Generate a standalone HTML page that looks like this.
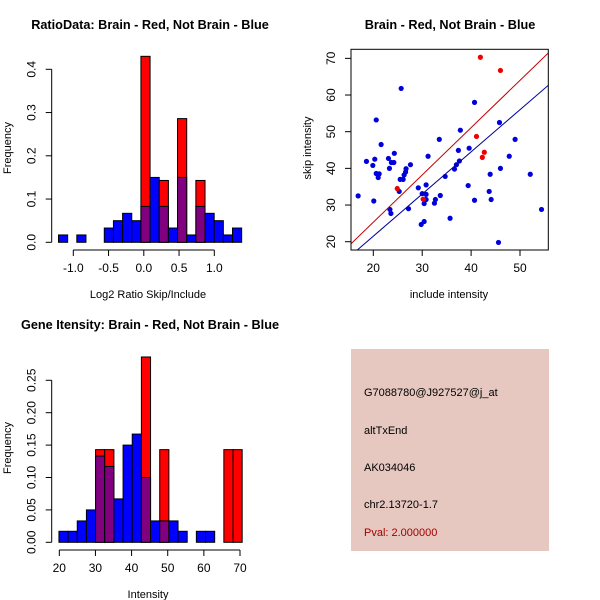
<!DOCTYPE html>
<html><head><meta charset="utf-8"><style>
html,body{margin:0;padding:0;background:#fff;width:600px;height:600px;overflow:hidden}
svg text{font-family:"Liberation Sans",sans-serif;}
</style></head><body>
<svg id="s" width="600" height="600" viewBox="0 0 600 600" xmlns="http://www.w3.org/2000/svg">
<rect x="0" y="0" width="600" height="600" fill="#fff"/>
<rect x="351" y="349" width="198" height="202" fill="#e6c8c0"/>
<g font-size="11" fill="#000">
<text x="364" y="396">G7088780@J927527@j_at</text>
<text x="364" y="434">altTxEnd</text>
<text x="364" y="471">AK034046</text>
<text x="364" y="508">chr2.13720-1.7</text>
<text x="364" y="536" fill="#a00000">Pval: 2.000000</text>
</g>
</svg>
<script>
// ---- Ratio histogram data ----
const ratioBinStart = -1.21;
const ratioBinWidth = 0.1299;
const ratioBlue = [0.017,0,0.017,0,0,0.033,0.05,0.067,0.05,0.083,0.15,0.083,0.033,0.15,0.017,0.083,0.067,0.05,0.017,0.033];
const ratioRed  = [0,0,0,0,0,0,0,0,0,0.43,0,0.143,0,0.286,0,0.143,0,0,0,0];
const ratioXTicks = [-1.0,-0.5,0.0,0.5,1.0];
const ratioXTickLabels = ["-1.0","-0.5","0.0","0.5","1.0"];
const ratioYTicks = [0,0.1,0.2,0.3,0.4];
const ratioYTickLabels = ["0.0","0.1","0.2","0.3","0.4"];
// ---- Intensity histogram data ----
const intBinStart = 19.9;
const intBinWidth = 2.535;
const intBlue = [0.017,0.017,0.033,0.05,0.133,0.117,0.067,0.15,0.167,0.1,0.033,0.033,0.033,0.017,0,0.017,0.017,0,0,0];
const intRed  = [0,0,0,0,0.143,0.143,0,0,0,0.286,0,0.143,0,0,0,0,0,0,0.143,0.143];
const intXTicks = [20,30,40,50,60,70];
const intYTicks = [0,0.05,0.1,0.15,0.2,0.25];
const intYTickLabels = ["0.00","0.05","0.10","0.15","0.20","0.25"];
// ---- Scatter data ----
const blueX = [16.9,18.6,19.9,20.1,20.3,20.6,20.6,21.0,21.2,21.6,23.1,23.3,23.4,23.6,23.7,24.2,24.3,25.3,25.5,25.7,26.1,26.3,26.6,26.7,27.2,27.6,29.2,29.8,30.0,30.4,30.4,30.8,30.8,30.8,31.2,32.5,32.7,33.5,33.7,34.7,35.7,36.6,37.0,37.4,37.6,37.8,39.4,39.6,40.7,40.7,43.7,43.9,44.1,45.6,45.8,46.0,47.8,49.0,52.1,54.4];
const blueY = [32.5,41.9,40.8,31.1,42.5,53.2,38.6,37.5,38.5,46.5,42.7,40.0,28.8,27.7,41.6,41.6,44.1,33.7,37.0,61.8,37.0,38.2,39.0,39.9,29.0,41.0,34.7,24.7,33.1,30.4,25.5,35.5,32.9,31.5,43.3,30.5,31.5,47.9,32.6,37.8,26.4,39.8,41.0,44.9,42.0,50.4,35.3,45.5,58.0,31.3,33.7,38.4,31.5,19.8,52.5,40.0,43.3,47.9,38.4,28.8];
const redX = [24.9,30.2,41.1,41.9,42.3,42.7,46.0];
const redY = [34.5,31.6,48.7,70.3,43.0,44.4,66.7];
const redLine = [1.29,-0.5];   // slope, intercept
const blueLine = [1.15,-1.5];
const scatXTicks = [20,30,40,50];
const scatYTicks = [20,30,40,50,60,70];

const NS="http://www.w3.org/2000/svg";
const svg=document.getElementById('s');
function mk(tag,attrs,parent){const e=document.createElementNS(NS,tag);for(const k in attrs)e.setAttribute(k,attrs[k]);(parent||svg).appendChild(e);return e;}
function txt(x,y,s,attrs){const e=mk('text',Object.assign({x:x,y:y},attrs||{}));e.textContent=s;return e;}

function histogram(cfg){
  const sx=v=>cfg.x0+(v-cfg.xv0)*cfg.xs;
  const sy=v=>cfg.y0-v*cfg.ys;
  const g=mk('g',{});
  
  
  for(let i=0;i<cfg.blue.length;i++){
    const a=cfg.binStart+i*cfg.binW, b=a+cfg.binW;
    const r=cfg.red[i], bl=cfg.blue[i];
    if(r>0){
      const e=mk('rect',{x:sx(a),y:sy(r),width:sx(b)-sx(a),height:sy(0)-sy(r),fill:'#ff0000',stroke:'#000','stroke-width':1},g);
      
      
    }
    if(bl>0){
      const col=r>0?'#800080':'#0000ff';
      const e=mk('rect',{x:sx(a),y:sy(bl),width:sx(b)-sx(a),height:sy(0)-sy(bl),fill:col,stroke:'#000','stroke-width':1},g);
      
      
    }
  }
  const yaxis=mk('g',{stroke:'#000','stroke-width':1});
  
  
  const yt=cfg.yTicks;
  mk('line',{x1:cfg.yAxisX,x2:cfg.yAxisX,y1:sy(yt[0]),y2:sy(yt[yt.length-1])},yaxis);
  yt.forEach((v,i)=>{
    mk('line',{x1:cfg.yAxisX-6,x2:cfg.yAxisX,y1:sy(v),y2:sy(v)},yaxis);
    const lx=cfg.yAxisX-16;
    const t=txt(lx,sy(v),cfg.yLabels[i],{'font-size':12,'text-anchor':'middle',transform:`rotate(-90 ${lx} ${sy(v)})`});
    
    
  });
  const xaxis=mk('g',{stroke:'#000','stroke-width':1});
  
  
  const xt=cfg.xTicks;
  mk('line',{x1:sx(xt[0]),x2:sx(xt[xt.length-1]),y1:cfg.xAxisY,y2:cfg.xAxisY},xaxis);
  xt.forEach((v,i)=>{
    mk('line',{x1:sx(v),x2:sx(v),y1:cfg.xAxisY,y2:cfg.xAxisY+6},xaxis);
    const t=txt(sx(v),cfg.xAxisY+22,cfg.xLabels[i],{'font-size':12,'text-anchor':'middle'});
    
    
  });
}

histogram({name:'ratio-histogram',x0:73.3,xv0:-1,xs:70.5,y0:242.3,ys:432.5,
  binStart:ratioBinStart,binW:ratioBinWidth,blue:ratioBlue,red:ratioRed,
  yTicks:ratioYTicks,yLabels:ratioYTickLabels,xTicks:ratioXTicks,xLabels:ratioXTickLabels,yAxisX:51.7,xAxisY:250});
histogram({name:'intensity-histogram',x0:59.3,xv0:20,xs:3.614,y0:542.3,ys:648,
  binStart:intBinStart,binW:intBinWidth,blue:intBlue,red:intRed,
  yTicks:intYTicks,yLabels:intYTickLabels,xTicks:intXTicks,xLabels:intXTicks.map(String),yAxisX:51.7,xAxisY:550});

(function(){
  const sx=v=>373.3+(v-20)*4.89;
  const sy=v=>241.7-(v-20)*3.667;
  const L=351,R=548.3,T=49.3,B=250;
  const clip=mk('clipPath',{id:'sc'});mk('rect',{x:L,y:T,width:R-L,height:B-T},clip);
  const g=mk('g',{'clip-path':'url(#sc)'});
  
  
  blueX.forEach((x,i)=>{
    const c=mk('circle',{cx:sx(x),cy:sy(blueY[i]),r:2.6,fill:'#0000dd'},g);
    
    
  });
  redX.forEach((x,i)=>{
    const c=mk('circle',{cx:sx(x),cy:sy(redY[i]),r:2.6,fill:'#ee0000'},g);
    
    
  });
  [[redLine,'#c00000','red-fit-line'],[blueLine,'#000099','blue-fit-line']].forEach(([ln,col,nm])=>{
    const e=mk('line',{x1:sx(10),y1:sy(ln[0]*10+ln[1]),x2:sx(60),y2:sy(ln[0]*60+ln[1]),stroke:col,'stroke-width':1},g);
    
    
  });
  const box=mk('rect',{x:L,y:T,width:R-L,height:B-T,fill:'none',stroke:'#000','stroke-width':1});
  
  
  scatXTicks.forEach(v=>{
    mk('line',{x1:sx(v),x2:sx(v),y1:B,y2:B+6,stroke:'#000'});
    const t=txt(sx(v),B+22,String(v),{'font-size':12,'text-anchor':'middle'});
    
    
  });
  scatYTicks.forEach(v=>{
    mk('line',{x1:L-6,x2:L,y1:sy(v),y2:sy(v),stroke:'#000'});
    const lx=L-16;
    const t=txt(lx,sy(v),String(v),{'font-size':12,'text-anchor':'middle',transform:`rotate(-90 ${lx} ${sy(v)})`});
    
    
  });
})();

function label(x,y,s,name,opts){const t=txt(x,y,s,opts);}
label(150,29,'RatioData: Brain - Red, Not Brain - Blue','ratio-title',{'font-size':12.7,'font-weight':'bold','text-anchor':'middle'});
label(450,29,'Brain - Red, Not Brain - Blue','scatter-title',{'font-size':12.7,'font-weight':'bold','text-anchor':'middle'});
label(150,329,'Gene Itensity: Brain - Red, Not Brain - Blue','intensity-title',{'font-size':12.7,'font-weight':'bold','text-anchor':'middle'});
label(148,298,'Log2 Ratio Skip/Include','ratio-x-title',{'font-size':11,'text-anchor':'middle'});
label(449,298,'include intensity','scatter-x-title',{'font-size':11,'text-anchor':'middle'});
label(148,598,'Intensity','intensity-x-title',{'font-size':11,'text-anchor':'middle'});
label(11,148,'Frequency','ratio-y-title',{'font-size':11,'text-anchor':'middle',transform:'rotate(-90 11 148)'});
label(311,148,'skip intensity','scatter-y-title',{'font-size':11,'text-anchor':'middle',transform:'rotate(-90 311 148)'});
label(11,448,'Frequency','intensity-y-title',{'font-size':11,'text-anchor':'middle',transform:'rotate(-90 11 448)'});
</script>
</body></html>
